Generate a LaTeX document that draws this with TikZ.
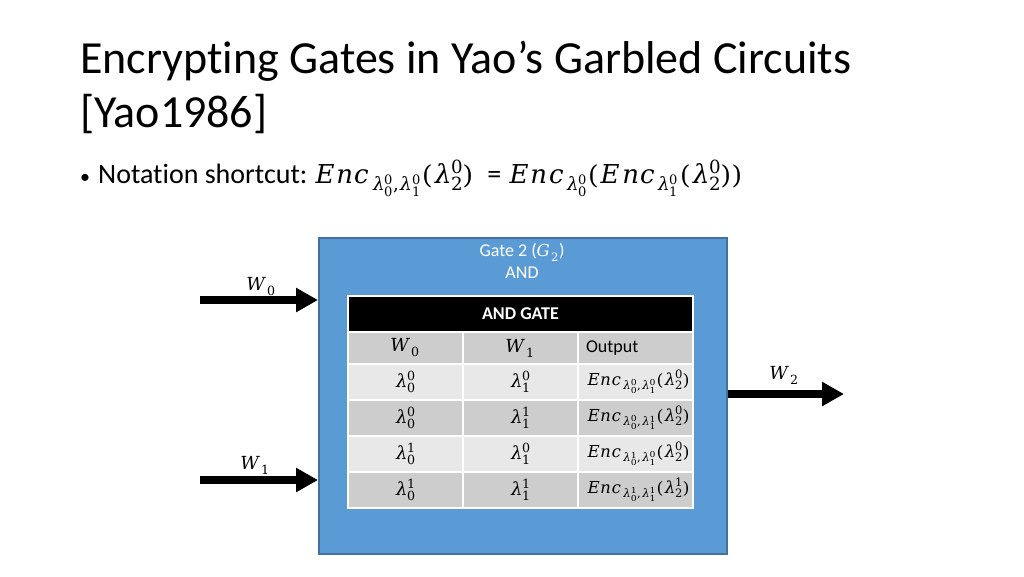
\documentclass[tikz,border=0pt]{standalone}
\usepackage{fontspec}
\usepackage{unicode-math}
\setmainfont{Carlito}[Ligatures=NoCommon]
\setmathfont{DejaVu Math TeX Gyre}
\usetikzlibrary{arrows.meta,positioning}
\definecolor{gateblue}{HTML}{5B9BD5}
\definecolor{gateedge}{HTML}{41719C}
\definecolor{rowdark}{HTML}{CDCDCD}
\definecolor{rowlight}{HTML}{E8E8E8}
\newcommand{\Enc}[3]{Enc_{\lambda_0^{#1},\lambda_1^{#2}}(\lambda_2^{#3})}
\newcommand{\bigmath}[1]{{\fontsize{18}{21}\selectfont$#1$}}
\newcommand{\encmath}[1]{{\fontsize{16.5}{20}\selectfont$#1$}}

\begin{document}
\begin{tikzpicture}[x=1pt,y=-1pt,>={Triangle[length=22pt,width=23pt]},
  wire/.style={->,line width=8pt},
  cell/.style={rectangle,draw=white,line width=1.5pt,outer sep=0pt,inner sep=0pt,
    minimum width=115pt,minimum height=36pt,font=\fontsize{18}{21}\selectfont},
  outcell/.style={cell,inner xsep=8pt,text width=99pt,align=left},
  light/.style={fill=rowlight},
  dark/.style={fill=rowdark}]
\useasboundingbox (0,0) rectangle (1024,576);

% title and bullet
\node[anchor=base west,inner sep=0pt,font=\fontsize{46}{50}\selectfont](title1) at (80,73) {Encrypting Gates in Yao's Garbled Circuits};
\node[anchor=base west,inner sep=0pt,font=\fontsize{46}{50}\selectfont](title2) at (80,127) {[Yao1986]};
\node[anchor=base west,inner sep=0pt,font=\fontsize{28}{34}\selectfont](note) at (80,183)
  {\makebox[18pt][l]{\fontsize{20}{20}\selectfont\textbullet}Notation shortcut:\hspace{6pt}%
   {\fontsize{26}{32}\selectfont$\Enc{0}{0}{0}$}\ \ = {\fontsize{26}{32}\selectfont$Enc_{\lambda_0^0}(Enc_{\lambda_1^0}(\lambda_2^0))$}};

% the gate
\node[draw=gateedge,line width=1.5pt,fill=gateblue,minimum width=408pt,minimum height=316pt,anchor=north west](gate) at (318,237) {};
\node[anchor=north,text=white,align=center,font=\fontsize{18}{22}\selectfont](gatelbl) at (522,240) {Gate 2 (\encmath{G_2})\\AND};

% truth table
\node[cell,fill=black,text=white,minimum width=345pt,font=\fontsize{18}{21}\selectfont\bfseries,anchor=north west](andgate) at (348,296) {AND GATE};
\node[cell,dark,minimum height=32pt,below=0pt of andgate.south west,anchor=north west](h1) {\bigmath{W_0}};
\node[cell,dark,minimum height=32pt,right=0pt of h1](h2) {\bigmath{W_1}};
\node[outcell,dark,minimum height=32pt,right=0pt of h2](h3) {Output};
\node[cell,light,below=0pt of h1](r1a) {\bigmath{\lambda_0^0}};
\node[cell,light,right=0pt of r1a](r1b) {\bigmath{\lambda_1^0}};
\node[outcell,light,right=0pt of r1b](r1c) {\encmath{\Enc{0}{0}{0}}};
\node[cell,dark,below=0pt of r1a](r2a) {\bigmath{\lambda_0^0}};
\node[cell,dark,right=0pt of r2a](r2b) {\bigmath{\lambda_1^1}};
\node[outcell,dark,right=0pt of r2b](r2c) {\encmath{\Enc{0}{1}{0}}};
\node[cell,light,below=0pt of r2a](r3a) {\bigmath{\lambda_0^1}};
\node[cell,light,right=0pt of r3a](r3b) {\bigmath{\lambda_1^0}};
\node[outcell,light,right=0pt of r3b](r3c) {\encmath{\Enc{1}{0}{0}}};
\node[cell,dark,below=0pt of r3a](r4a) {\bigmath{\lambda_0^1}};
\node[cell,dark,right=0pt of r4a](r4b) {\bigmath{\lambda_1^1}};
\node[outcell,dark,right=0pt of r4b](r4c) {\encmath{\Enc{1}{1}{1}}};

% wires
\coordinate(w0in) at (200,300);
\coordinate(w1in) at (200,480);
\coordinate(w2out) at (844,394);
\draw[wire](w0in)--(w0in -| gate.west);
\draw[wire](w1in)--(w1in -| gate.west);
\draw[wire](gate.east |- w2out)--(w2out);
\node(w0lbl) at (261,287) {\bigmath{W_0}};
\node(w1lbl) at (255,465) {\bigmath{W_1}};
\node(w2lbl) at (784,375) {\bigmath{W_2}};
\end{tikzpicture}
\end{document}
